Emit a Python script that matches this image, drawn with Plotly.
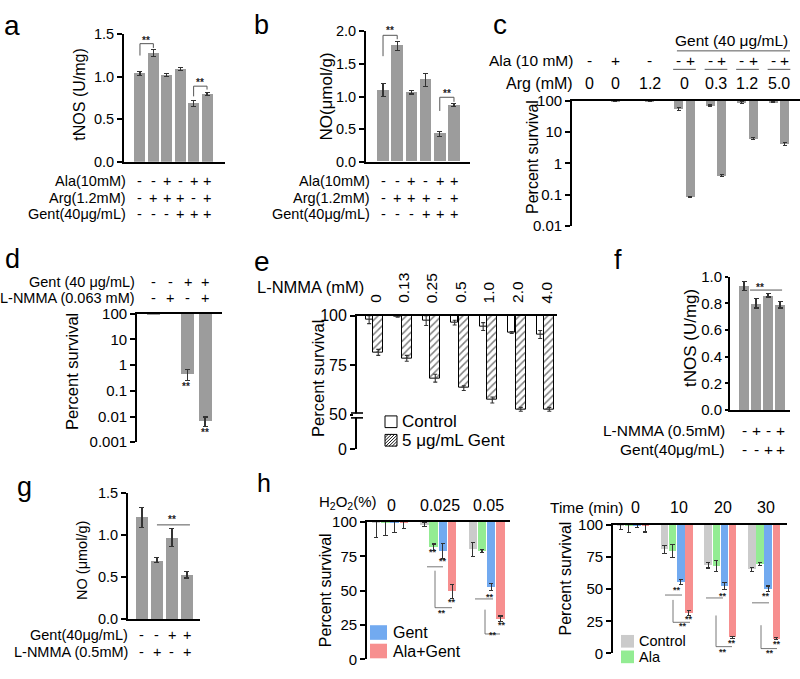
import plotly.graph_objects as go

W, H = 800, 679
FONT = "Liberation Sans, Arial, Helvetica, sans-serif"
BAR_GRAY = "#9c9c9c"
ERR_C = "#333333"
C_CTRL, C_ALA, C_GENT, C_ALAGENT = "#cbcbcb", "#93ec93", "#72aaf0", "#f78f8f"

# ---------------- data ----------------
# panel a : tNOS (U/mg)
a_values = [1.04, 1.28, 1.02, 1.09, 0.69, 0.80]
a_errors = [0.02, 0.04, 0.015, 0.015, 0.035, 0.015]
# panel b : NO (umol/g)
b_values = [1.10, 1.78, 1.07, 1.26, 0.43, 0.87]
b_errors = [0.10, 0.07, 0.03, 0.10, 0.04, 0.02]
ab_ala = ["-", "-", "+", "-", "+", "+"]
ab_arg = ["-", "+", "+", "+", "-", "+"]
ab_gent = ["-", "-", "-", "+", "+", "+"]

# panel c : percent survival (log)
c_arg_groups = ["0", "0", "1.2", "0", "0.3", "1.2", "5.0"]
c_group_gent = [False, False, False, True, True, True, True]
c_ala = ["-", "+", "-", "-", "+", "-", "+", "-", "+", "-", "+"]
c_values = [100, 98, 98, 55, 0.085, 68, 0.42, 86, 6.3, 90, 4.2]
c_errors = [0, 1.5, 1.5, 6, 0.004, 4, 0.03, 4, 0.4, 3, 0.4]

# panel d
d_gent = ["-", "-", "+", "+"]
d_lnmma = ["-", "+", "-", "+"]
d_values = [99, 100, 0.45, 0.0068]
d_errors = [1, 0, 0.2, 0.0028]

# panel e
e_lnmma = ["0", "0.13", "0.25", "0.5", "1.0", "2.0", "4.0"]
e_control = [98, 99.6, 97.5, 96.5, 94.5, 91.5, 90.5]
e_control_err = [2, 0.4, 2.5, 1.2, 2, 0.5, 2]
e_gent = [81.5, 78.5, 68.5, 63.5, 57.5, 52.8, 52.8]
e_gent_err = [1.5, 1.5, 2, 1.2, 1.5, 1, 1]

# panel f
f_lnmma = ["-", "+", "-", "+"]
f_gent = ["-", "-", "+", "+"]
f_values = [0.93, 0.80, 0.86, 0.79]
f_errors = [0.035, 0.035, 0.012, 0.025]

# panel g
g_gent = ["-", "-", "+", "+"]
g_lnmma = ["-", "+", "-", "+"]
g_values = [1.21, 0.70, 0.97, 0.53]
g_errors = [0.12, 0.03, 0.11, 0.04]

# panel h (left): H2O2
h1_cats = ["0", "0.025", "0.05"]
h1_control = [99.5, 98, 80]
h1_control_err = [10.5, 1.5, 5]
h1_ala = [99.5, 81.5, 79]
h1_ala_err = [9.5, 2.5, 1]
h1_gent = [99.5, 79, 52.5]
h1_gent_err = [7, 5.5, 2.5]
h1_alagent = [99.5, 49.5, 29.5]
h1_alagent_err = [4, 5, 2]

# panel h (right): time
h2_cats = ["0", "10", "20", "30"]
h2_control = [99.5, 81, 68.5, 65.5]
h2_control_err = [3, 3, 2, 1.5]
h2_ala = [99.5, 79.5, 68, 69.5]
h2_ala_err = [5.5, 5, 4, 1]
h2_gent = [99.5, 55.5, 52.5, 50.5]
h2_gent_err = [1.5, 2, 3, 2]
h2_alagent = [99.5, 31.5, 12.5, 11.5]
h2_alagent_err = [5, 2, 0.6, 0.6]

# ---------------- helpers ----------------
fig = go.Figure()
ANN, SHP = [], []
count = [0]


def fx(x):
    return x / W


def fy(y):
    return 1 - y / H


def axes(xpx, ypx, xrange, yrange, ytype="linear", xside="bottom", tickvals=None, ticktext=None, tsize=15,
         ticklen=5):
    count[0] += 1
    s = "" if count[0] == 1 else str(count[0])
    fig.update_layout(**{
        "xaxis" + s: dict(domain=[fx(xpx[0]), fx(xpx[1])], range=xrange, anchor="y" + s, side=xside,
                          showline=True, linecolor="black", linewidth=1.8, showgrid=False, zeroline=False,
                          showticklabels=False, ticks="", fixedrange=True),
        "yaxis" + s: dict(domain=[fy(ypx[0]), fy(ypx[1])], range=yrange, type=ytype, anchor="x" + s,
                          showline=True, linecolor="black", linewidth=1.8, showgrid=False, zeroline=False,
                          ticks="outside", ticklen=ticklen, tickwidth=1.6, tickcolor="black",
                          tickmode="array", tickvals=tickvals, ticktext=ticktext,
                          tickfont=dict(size=tsize, color="black", family=FONT), fixedrange=True),
    })
    return "x" + s, "y" + s


def err(arr, width=2.5):
    return dict(type="data", array=arr, visible=True, color=ERR_C, thickness=1.1, width=width)


def txt(x, y, t, size, xanchor="center", angle=0, yanchor="middle", xref="paper", color="black"):
    ANN.append(dict(x=fx(x) if xref == "paper" else x, y=fy(y), xref=xref, yref="paper", text=t,
                    showarrow=False, textangle=angle, xanchor=xanchor, yanchor=yanchor,
                    font=dict(size=size, color=color, family=FONT)))


def line(x0, y0, x1, y1, xref="paper", yref="paper", width=1.0, color="#555555"):
    SHP.append(dict(type="line", xref=xref, yref=yref,
                    x0=fx(x0) if xref == "paper" else x0, x1=fx(x1) if xref == "paper" else x1,
                    y0=fy(y0) if yref == "paper" else y0, y1=fy(y1) if yref == "paper" else y1,
                    line=dict(color=color, width=width)))


def rect(x0, y0, x1, y1, fill, lw=0, lc="black"):
    SHP.append(dict(type="rect", xref="paper", yref="paper", x0=fx(x0), x1=fx(x1), y0=fy(y1), y1=fy(y0),
                    fillcolor=fill, line=dict(width=lw, color=lc)))


def sign_row(xref, positions, signs, ypx, label, label_right, size=14.5):
    txt(label_right, ypx, label, size, xanchor="right")
    for p, s in zip(positions, signs):
        txt(p, ypx, s, size, xref=xref)


def stars(x, y, size=10):
    txt(x, y, "<b>**</b>", size, color="#222222")


def hang(values):
    return [v - 100 for v in values]


# ---------------- panel a ----------------
xa, ya = axes((124, 225), (157, 26), [-1.19, 6.34], [0, 1.5],
              tickvals=[0, 0.5, 1, 1.5], ticktext=["0.0", "0.5", "1.0", "1.5"], tsize=14.5)
pa = list(range(len(a_values)))
fig.add_bar(x=pa, y=a_values, width=0.82, marker=dict(color=BAR_GRAY, line_width=0),
            error_y=err(a_errors), xaxis=xa, yaxis=ya, showlegend=False)
for (l, r, top, lb, rb) in [(0, 1, 1.39, 1.25, 1.34), (4, 5, 0.89, 0.77, 0.85)]:
    line(l, lb, l, top, xa, ya); line(l, top, r, top, xa, ya); line(r, top, r, rb, xa, ya)
stars(146, 32); stars(200, 75)
sign_row(xa, pa, ab_ala, 177, "Ala(10mM)", 128)
sign_row(xa, pa, ab_arg, 194, "Arg(1.2mM)", 128)
sign_row(xa, pa, ab_gent, 211, "Gent(40μg/mL)", 128)
txt(80, 88, "tNOS (U/mg)", 16, angle=-90)

# ---------------- panel b ----------------
xb, yb = axes((366, 470), (157, 23), [-1.2, 6.13], [0, 2],
              tickvals=[0, 0.5, 1, 1.5, 2], ticktext=["0.0", "0.5", "1.0", "1.5", "2.0"], tsize=14.5)
pb = list(range(len(b_values)))
fig.add_bar(x=pb, y=b_values, width=0.82, marker=dict(color=BAR_GRAY, line_width=0),
            error_y=err(b_errors), xaxis=xb, yaxis=yb, showlegend=False)
for (l, r, top, lb, rb) in [(0, 1, 1.94, 1.62, 1.88), (4, 5, 0.99, 0.78, 0.92)]:
    line(l, lb, l, top, xb, yb); line(l, top, r, top, xb, yb); line(r, top, r, rb, xb, yb)
stars(390, 22); stars(447, 87)
sign_row(xb, pb, ab_ala, 177, "Ala(10mM)", 372)
sign_row(xb, pb, ab_arg, 194, "Arg(1.2mM)", 372)
sign_row(xb, pb, ab_gent, 211, "Gent(40μg/mL)", 372)
txt(327, 90, "NO(μmol/g)", 17, angle=-90)

# ---------------- panel c ----------------
xc, yc = axes((572, 800), (223, 94), [-0.571, 6.667], [-2, 2], ytype="log", xside="top",
              tickvals=[0.01, 0.1, 1, 10, 100], ticktext=["0.01", "0.1", "1", "10", "100"], tsize=15)
c_centers = [0, 0.8, 1.9, 3, 4, 5, 6]
pc = []
for cen, pair in zip(c_centers, c_group_gent):
    pc += [cen - 0.18, cen + 0.18] if pair else [cen]
fig.add_bar(x=pc, y=hang(c_values), base=100, width=0.29, marker=dict(color=BAR_GRAY, line_width=0),
            error_y=err(c_errors, 2), xaxis=xc, yaxis=yc, showlegend=False)
sign_row(xc, pc, c_ala, 53, "Ala (10 mM)", 575, size=15.5)
sign_row(xc, c_centers, c_arg_groups, 77, "Arg (mM)", 575, size=16)
for cen, pair in zip(c_centers, c_group_gent):
    if pair:
        line(cen - 0.36, 62, cen + 0.36, 62, xref=xc, color="#444444", width=0.9)
line(2.76, 43, 6.35, 43, xref=xc, color="#444444", width=0.9)
txt(4.5, 32, "Gent (40 μg/mL)", 15.5, xref=xc)
txt(533, 152, "Percent survival", 16, angle=-90)

# ---------------- panel d ----------------
xd, yd = axes((137, 222), (445, 313), [-0.925, 3.98], [-3, 2], ytype="log", xside="top",
              tickvals=[0.001, 0.01, 0.1, 1, 10, 100], ticktext=["0.001", "0.01", "0.1", "1", "10", "100"], tsize=15)
pd_ = list(range(len(d_values)))
fig.add_bar(x=pd_, y=hang(d_values), base=100, width=0.75, marker=dict(color=BAR_GRAY, line_width=0),
            error_y=err(d_errors), xaxis=xd, yaxis=yd, showlegend=False)
sign_row(xd, pd_, d_gent, 280, "Gent (40 μg/mL)", 137, size=14.5)
sign_row(xd, pd_, d_lnmma, 297, "L-NMMA (0.063 mM)", 137, size=14.5)
stars(186, 388); stars(205, 435)
txt(72, 373, "Percent survival", 16.5, angle=-90)

# ---------------- panel e ----------------
xe, ye = axes((357, 557), (452, 315), [-0.596, 6.42], [32.8, 100], xside="top",
              tickvals=[32.8, 50, 75, 100], ticktext=["0", "50", "75", "100"], tsize=16)
pe = list(range(len(e_lnmma)))
fig.add_bar(x=[p - 0.17 for p in pe], y=hang(e_control), base=100, width=0.25, name="Control",
            marker=dict(color="white", line=dict(color="black", width=1)),
            error_y=err(e_control_err, 2), xaxis=xe, yaxis=ye, showlegend=False)
fig.add_bar(x=[p + 0.15 for p in pe], y=hang(e_gent), base=100, width=0.36, name="5 μg/mL Gent",
            marker=dict(color="white", line=dict(color="black", width=1),
                        pattern=dict(shape="/", fgcolor="black", bgcolor="white", size=5, solidity=0.3)),
            error_y=err(e_gent_err, 2), xaxis=xe, yaxis=ye, showlegend=False)
for p, lab in zip(pe, e_lnmma):
    ANN.append(dict(x=p + 0.05, y=fy(304), xref=xe, yref="paper", text=lab, showarrow=False,
                    textangle=-90, xanchor="center", yanchor="bottom",
                    font=dict(size=15.5, color="black", family=FONT)))
txt(366, 286, "L-NMMA (mM)", 16.5, xanchor="right")
# axis break
SHP.append(dict(type="rect", xref="paper", yref="paper", x0=fx(353), x1=fx(361), y0=fy(419.5), y1=fy(415.5),
                fillcolor="white", line=dict(width=0), layer="above"))
line(351, 415, 363, 415, color="black", width=1.6)
line(351, 420, 363, 420, color="black", width=1.6)
# legend swatches (control: open box, gent: hatched box)
rect(385, 418, 397, 430, "white", lw=1)
bx0, bx1, by0, by1 = 385, 397, 437, 449
rect(bx0, by0, bx1, by1, "white", lw=1)
c0 = bx0 - (by1 - by0)
while c0 < bx1:
    t0 = max(0, bx0 - c0)
    t1 = min(by1 - by0, bx1 - c0)
    if t1 > t0:
        line(c0 + t0, by1 - t0, c0 + t1, by1 - t1, color="black", width=0.9)
    c0 += 3.2
txt(400, 424, "Control", 17, xanchor="left")
txt(400, 443, "5 μg/mL Gent", 17, xanchor="left")
txt(318, 380, "Percent survival", 16.5, angle=-90)

# ---------------- panel f ----------------
xf, yf = axes((730, 790), (412, 275), [-1.17, 3.83], [0, 1],
              tickvals=[0, 0.2, 0.4, 0.6, 0.8, 1.0], ticktext=["0.0", "0.2", "0.4", "0.6", "0.8", "1.0"],
              tsize=15, ticklen=3)
pf = list(range(len(f_values)))
fig.add_bar(x=pf, y=f_values, width=0.85, marker=dict(color=BAR_GRAY, line_width=0),
            error_y=err(f_errors), xaxis=xf, yaxis=yf, showlegend=False)
line(0.5, 0.90, 3.17, 0.90, xref=xf, yref=yf)
stars(760, 286)
sign_row(xf, pf, f_lnmma, 433, "L-NMMA (0.5mM)", 727, size=15.5)
sign_row(xf, pf, f_gent, 452, "Gent(40μg/mL)", 727, size=15.5)
txt(690, 338, "tNOS (U/mg)", 17, angle=-90)

# ---------------- panel g ----------------
xg, yg = axes((128, 200), (627, 497), [-0.93, 3.87], [0, 1.5],
              tickvals=[0, 0.5, 1, 1.5], ticktext=["0.0", "0.5", "1.0", "1.5"], tsize=14.5)
pg = list(range(len(g_values)))
fig.add_bar(x=pg, y=g_values, width=0.85, marker=dict(color=BAR_GRAY, line_width=0),
            error_y=err(g_errors), xaxis=xg, yaxis=yg, showlegend=False)
line(1, 1.12, 3.2, 1.12, xref=xg, yref=yg)
stars(172, 524)
sign_row(xg, pg, g_gent, 643, "Gent(40μg/mL)", 130)
sign_row(xg, pg, g_lnmma, 660, "L-NMMA (0.5mM)", 130)
txt(82, 567, "NO (μmol/g)", 14.5, angle=-90)

# ---------------- panel h left ----------------
xh1, yh1 = axes((367, 510), (668, 527), [-0.476, 2.484], [0, 100], xside="top",
                tickvals=[0, 25, 50, 75, 100], ticktext=["0", "25", "50", "75", "100"], tsize=15)
ph1 = list(range(len(h1_cats)))
for off, vals, errs, col in [(-0.285, h1_control, h1_control_err, C_CTRL), (-0.095, h1_ala, h1_ala_err, C_ALA),
                             (0.095, h1_gent, h1_gent_err, C_GENT), (0.285, h1_alagent, h1_alagent_err, C_ALAGENT)]:
    fig.add_bar(x=[p + off for p in ph1], y=hang(vals), base=100, width=0.175,
                marker=dict(color=col, line_width=0), error_y=err(errs, 2.2),
                xaxis=xh1, yaxis=yh1, showlegend=False)
txt(379, 507, "H<sub>2</sub>O<sub>2</sub>(%)", 15, xanchor="right")
for p, c in zip(ph1, h1_cats):
    txt(p + 0.04, 510, c, 16, xref=xh1)
for seg in [(427, 573, 443, 573), (435, 577, 435, 615), (435, 615, 452, 615),
            (475, 606, 493, 606), (485, 617, 485, 642), (485, 642, 500, 642)]:
    line(*seg, width=0.8)
for s in [(433, 558), (443, 567), (452, 609), (442, 620), (490, 604), (502, 633), (493, 643)]:
    stars(*s, size=9)
for (y0, col, lab) in [(633, C_GENT, "Gent"), (652, C_ALAGENT, "Ala+Gent")]:
    rect(370, y0, 387, y0 + 15, col)
    txt(391, y0 + 7.5, lab, 16, xanchor="left")
txt(325, 597, "Percent survival", 16, angle=-90)

# ---------------- panel h right ----------------
xh2, yh2 = axes((613, 787), (662, 530), [-0.458, 3.526], [0, 100], xside="top",
                tickvals=[0, 25, 50, 75, 100], ticktext=["0", "25", "50", "75", "100"], tsize=15)
ph2 = list(range(len(h2_cats)))
for off, vals, errs, col in [(-0.28, h2_control, h2_control_err, C_CTRL), (-0.094, h2_ala, h2_ala_err, C_ALA),
                             (0.094, h2_gent, h2_gent_err, C_GENT), (0.28, h2_alagent, h2_alagent_err, C_ALAGENT)]:
    fig.add_bar(x=[p + off for p in ph2], y=hang(vals), base=100, width=0.17,
                marker=dict(color=col, line_width=0), error_y=err(errs, 2.2),
                xaxis=xh2, yaxis=yh2, showlegend=False)
txt(625, 512, "Time (min)", 15.5, xanchor="right")
for p, c in zip(ph2, h2_cats):
    txt(p + 0.05, 512, c, 16, xref=xh2)
for seg in [(665, 602, 682, 602), (673, 607, 673, 630), (673, 630, 690, 630),
            (706, 605, 723, 605), (716, 623, 716, 655), (716, 655, 732, 655),
            (752, 610, 769, 610), (761, 633, 761, 657), (761, 657, 777, 657)]:
    line(*seg, width=0.8)
for s in [(677, 597), (689, 627), (683, 634), (723, 603), (732, 651), (723, 660),
          (766, 603), (777, 652), (770, 662)]:
    stars(*s, size=9)
for (y0, col, lab) in [(643, C_CTRL, "Control"), (659, C_ALA, "Ala")]:
    rect(621, y0, 634, y0 + 13, col)
    txt(637, y0 + 6.5, lab, 14.5, xanchor="left")
txt(565, 585, "Percent survival", 16, angle=-90)

# ---------------- panel letters ----------------
for (lx, ly, lt, ls) in [(12, 17, "a", 28), (261, 16, "b", 27), (500, 16, "c", 28), (12, 257, "d", 27),
                         (262, 259, "e", 28), (618, 258, "f", 27), (24, 491, "g", 27), (264, 487, "h", 25)]:
    txt(lx, ly, lt, ls)

fig.update_layout(
    width=W, height=H, margin=dict(l=0, r=0, t=0, b=0),
    paper_bgcolor="white", plot_bgcolor="white",
    font=dict(family=FONT, color="black"),
    bargap=0, barmode="overlay",
    annotations=ANN, shapes=SHP,
    showlegend=False,
)

fig.write_html("out.html", config={"displayModeBar": False},
               post_script="document.body.style.margin='0px';")
